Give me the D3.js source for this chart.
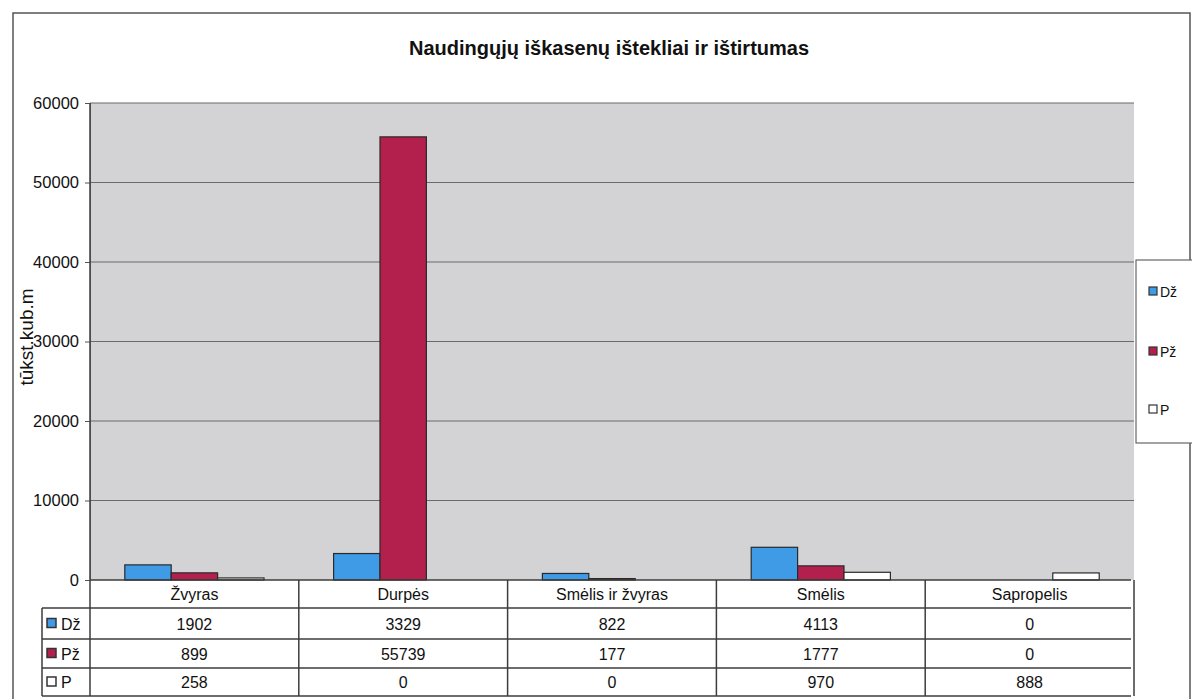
<!DOCTYPE html>
<html><head><meta charset="utf-8">
<script src="https://cdn.jsdelivr.net/npm/d3@7"></script>
<style>body{margin:0;background:#fff}svg{display:block}text{font-family:"Liberation Sans",Arial,sans-serif;fill:#111}</style>
</head><body>
<svg id="c" width="1192" height="699"></svg>
<script>
const categories = ["Žvyras","Durpės","Smėlis ir žvyras","Smėlis","Sapropelis"];
const seriesNames = ["Dž","Pž","P"];
const seriesDz = [1902,3329,822,4113,0];
const seriesPz = [899,55739,177,1777,0];
const seriesP  = [258,0,0,970,888];
const yTicks = [0,10000,20000,30000,40000,50000,60000];
const colors = ["#3f9be6","#b3204d","#ffffff"];
const titleText = "Naudingųjų iškasenų ištekliai ir ištirtumas";
const yTitle = "tūkst.kub.m";

const values = [seriesDz, seriesPz, seriesP];
const svg = d3.select("#c");
const L=90, R=1134, T=103, B=580;

// outer border
svg.append("rect").attr("x",13).attr("y",13).attr("width",1177).attr("height",720)
  .attr("fill","#fff").attr("stroke","#555").attr("stroke-width",1.5);

svg.append("text").attr("x",609).attr("y",55).attr("text-anchor","middle")
  .attr("font-size",20).attr("font-weight","bold").text(titleText);

const x0 = d3.scaleBand().domain(categories).range([L,R]).padding(0);
const x1 = d3.scaleBand().domain(seriesNames).range([0,x0.bandwidth()]).paddingInner(0).paddingOuter(0.75);
const y = d3.scaleLinear().domain([0,60000]).range([B,T]);

svg.append("rect").attr("x",L).attr("y",T).attr("width",R-L).attr("height",B-T).attr("fill","#d3d2d4");

svg.append("g").selectAll("line").data(yTicks.filter(d=>d>0)).join("line")
  .attr("x1",L).attr("x2",R).attr("y1",d=>y(d)).attr("y2",d=>y(d))
  .attr("stroke","#6a6a6a").attr("stroke-width",1.2);

const yAxis = d3.axisLeft(y).tickValues(yTicks).tickSize(5).tickPadding(6).tickFormat(d3.format("d"));
const ga = svg.append("g").attr("transform",`translate(${L},0)`).call(yAxis);
ga.select(".domain").attr("stroke","#777");
ga.selectAll(".tick line").attr("stroke","#555");
ga.selectAll(".tick text").attr("font-size",16.5).attr("fill","#222").style("font-family","'Liberation Sans',Arial,sans-serif");

svg.append("text").attr("transform","translate(33,337) rotate(-90)").attr("text-anchor","middle")
  .attr("font-size",19).text(yTitle);

// bars
seriesNames.forEach((s,si)=>{
  svg.append("g").selectAll("rect").data(categories).join("rect")
    .attr("x",c=>x0(c)+x1(s))
    .attr("width",x1.bandwidth())
    .attr("y",(c,i)=>y(values[si][i]))
    .attr("height",(c,i)=>B-y(values[si][i]))
    .attr("fill",colors[si]).attr("stroke","#2a2a2a").attr("stroke-width",1.2);
});

// table
const rowY = [580,608,639,668,696];
const TL = 42, TR = 1131;
const tg = svg.append("g");
const lineC = "#3c3c3c";
tg.append("line").attr("x1",L).attr("x2",TR).attr("y1",rowY[0]).attr("y2",rowY[0]).attr("stroke",lineC).attr("stroke-width",1.5);
for(let r=1;r<rowY.length;r++){
  tg.append("line").attr("x1",TL).attr("x2",TR).attr("y1",rowY[r]).attr("y2",rowY[r]).attr("stroke",lineC).attr("stroke-width",1.5);
}
tg.append("line").attr("x1",TL).attr("x2",TL).attr("y1",rowY[1]).attr("y2",rowY[4]).attr("stroke",lineC).attr("stroke-width",1.5);
tg.append("line").attr("x1",L).attr("x2",L).attr("y1",T).attr("y2",rowY[4]).attr("stroke",lineC).attr("stroke-width",1.5);
categories.forEach(c=>{
  tg.append("line").attr("x1",x0(c)+x0.bandwidth()).attr("x2",x0(c)+x0.bandwidth())
    .attr("y1",rowY[0]).attr("y2",rowY[4]).attr("stroke",lineC).attr("stroke-width",1.5);
});
tg.selectAll("text.hdr").data(categories).join("text").attr("class","hdr")
  .attr("x",c=>x0(c)+x0.bandwidth()/2).attr("y",(rowY[0]+rowY[1])/2+6)
  .attr("text-anchor","middle").attr("font-size",16).text(c=>c);
seriesNames.forEach((s,si)=>{
  const cy = (rowY[si+1]+rowY[si+2])/2;
  tg.append("rect").attr("x",TL+5).attr("y",cy-5).attr("width",9).attr("height",9)
    .attr("fill",colors[si]).attr("stroke","#333").attr("stroke-width",1.5);
  tg.append("text").attr("x",TL+19).attr("y",cy+6).attr("font-size",16).text(s);
  tg.selectAll(null).data(categories).join("text")
    .attr("x",c=>x0(c)+x0.bandwidth()/2).attr("y",cy+6)
    .attr("text-anchor","middle").attr("font-size",16).text((c,i)=>values[si][i]);
});

// legend
const lg = svg.append("g");
lg.append("rect").attr("x",1136).attr("y",260).attr("width",60).attr("height",183)
  .attr("fill","#fff").attr("stroke","#666").attr("stroke-width",1.2);
const legY = [292,352,410];
seriesNames.forEach((s,si)=>{
  lg.append("rect").attr("x",1149).attr("y",legY[si]-5).attr("width",8).attr("height",8)
    .attr("fill",colors[si]).attr("stroke","#333").attr("stroke-width",1.2);
  lg.append("text").attr("x",1160).attr("y",legY[si]+5).attr("font-size",14).attr("fill","#333").text(s);
});
</script>
</body></html>
